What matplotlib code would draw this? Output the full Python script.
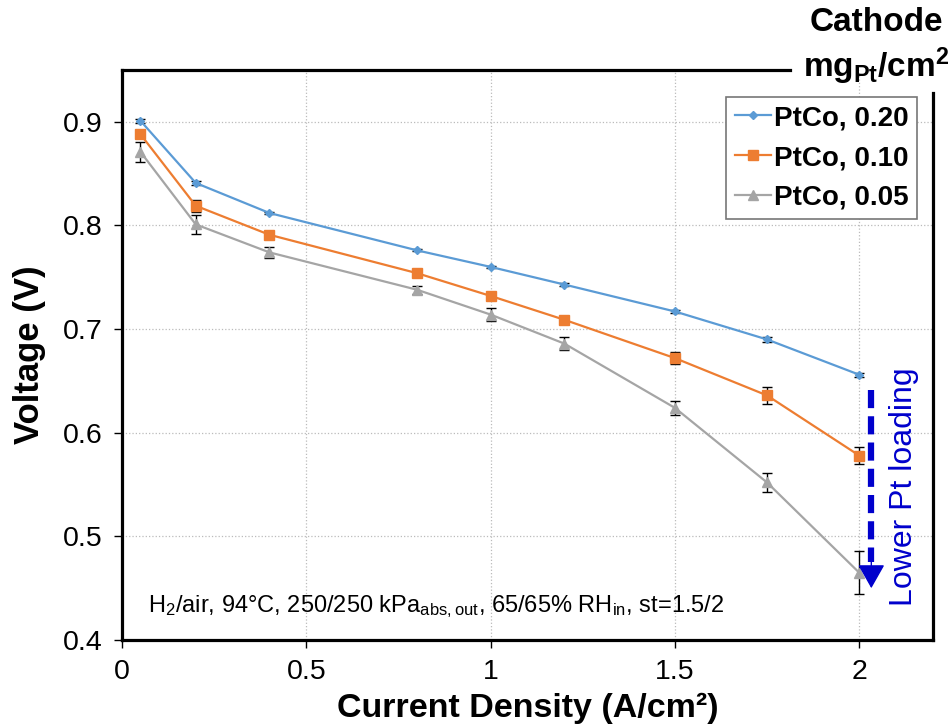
import matplotlib
matplotlib.use("Agg")
import matplotlib.pyplot as plt

plt.rcParams['font.family'] = ['Liberation Sans', 'DejaVu Sans']
plt.rcParams['mathtext.fontset'] = 'custom'
plt.rcParams['mathtext.rm'] = 'Liberation Sans'
plt.rcParams['mathtext.bf'] = 'Liberation Sans:bold'
plt.rcParams['mathtext.default'] = 'regular'

# current density (A/cm2)
current = [0.05, 0.2, 0.4, 0.8, 1.0, 1.2, 1.5, 1.75, 2.0]

# cell voltage (V) per cathode loading
v_020 = [0.901, 0.841, 0.812, 0.776, 0.760, 0.743, 0.717, 0.690, 0.656]
v_010 = [0.888, 0.819, 0.791, 0.754, 0.732, 0.709, 0.672, 0.636, 0.578]
v_005 = [0.871, 0.801, 0.774, 0.738, 0.714, 0.686, 0.624, 0.552, 0.465]

# error bars (V)
err_020 = [0.002, 0.002, 0.001, 0.001, 0.001, 0.001, 0.001, 0.002, 0.002]
err_010 = [0.004, 0.006, 0.003, 0.003, 0.003, 0.003, 0.006, 0.008, 0.008]
err_005 = [0.010, 0.009, 0.005, 0.004, 0.006, 0.006, 0.007, 0.009, 0.021]

labels = ["PtCo, 0.20", "PtCo, 0.10", "PtCo, 0.05"]
colors = ["#5B9BD5", "#ED7D31", "#A5A5A5"]
markers = ["D", "s", "^"]
msizes = [4.5, 6.5, 6.5]

fig = plt.figure(figsize=(9.49, 7.27), dpi=100)
ax = fig.add_axes([0.1286, 0.1197, 0.8544, 0.7840])

series = [(v_020, err_020), (v_010, err_010), (v_005, err_005)]
for (v, e), lab, c, m, ms in zip(series, labels, colors, markers, msizes):
    ax.errorbar(current, v, yerr=e, fmt='none', ecolor='black',
                elinewidth=1, capsize=3.5, capthick=1, zorder=2)
    ax.plot(current, v, color=c, marker=m, markersize=ms, linewidth=1.6,
            label=lab, zorder=3)

ax.set_xlim(0, 2.2)
ax.set_ylim(0.4, 0.95)
ax.set_xticks([0, 0.5, 1, 1.5, 2])
ax.set_xticklabels(["0", "0.5", "1", "1.5", "2"])
ax.set_yticks([0.4, 0.5, 0.6, 0.7, 0.8, 0.9])
ax.tick_params(direction='out', length=6, width=1, labelsize=20.5, pad=8)
ax.grid(True, linestyle=':', color='#BBBBBB', linewidth=0.9)
ax.set_axisbelow(True)

for s in ax.spines.values():
    s.set_linewidth(2.3)
# top line is broken by the "Cathode" label, right line starts under it
ax.spines['top'].set_bounds(0, 1.813)
ax.spines['right'].set_bounds(0.4, 0.928)

ax.set_xlabel("Current Density (A/cm²)", fontsize=24.5, fontweight='bold', labelpad=5)
ax.set_ylabel("Voltage (V)", fontsize=25, fontweight='bold', labelpad=12)

leg = ax.legend(loc='upper right', bbox_to_anchor=(0.980, 0.953),
                prop={'weight': 'bold', 'size': 20}, handlelength=1.3,
                handletextpad=0.1, borderpad=0.3, labelspacing=0.5,
                fancybox=False, framealpha=1, borderaxespad=0)
leg.get_frame().set_edgecolor('#777777')
leg.get_frame().set_linewidth(1.2)

fig.text(876 / 949, 1 - 7 / 727, "Cathode\nmg$_{\\mathbf{Pt}}$/cm$^{\\mathbf{2}}$",
         ha='center', va='top', fontsize=24, fontweight='bold', linespacing=1.25)

# lower loading arrow: dashed shaft plus a solid head
arrow_x = 2.033
ax.plot([arrow_x, arrow_x], [0.641, 0.475], color='#0000CC', linewidth=4.5,
        dashes=(2.9, 1.3), solid_capstyle='butt', dash_capstyle='butt', zorder=4)
ax.annotate("", xy=(arrow_x, 0.45), xytext=(arrow_x, 0.48),
            arrowprops=dict(arrowstyle='-|>,head_length=1.5,head_width=0.85',
                            color='#0000CC', linewidth=1, shrinkA=0, shrinkB=0),
            zorder=4)
ax.text(2.122, 0.548, "Lower Pt loading", rotation=90, color='#0000CC',
        fontsize=23, ha='center', va='center')

ax.text(0.07, 0.432, "H$_2$/air, 94°C, 250/250 kPa$_{abs,out}$, 65/65% RH$_{in}$, st=1.5/2",
        fontsize=17, ha='left', va='center')

fig.savefig("out.png", dpi=100)
